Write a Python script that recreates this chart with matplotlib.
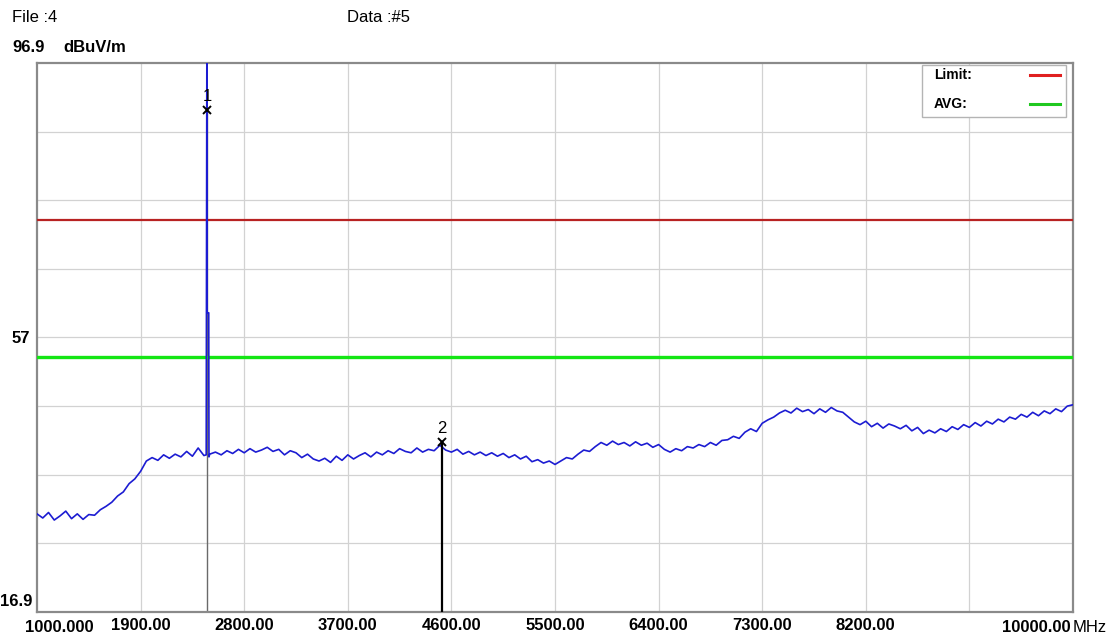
import numpy as np
import matplotlib.pyplot as plt
from matplotlib.patches import Rectangle

# sweep 1000-10000 MHz, one reading every 50 MHz
freq = np.linspace(1000, 10000, 181)
level = [
    31.2, 30.6, 31.4, 30.3, 30.9, 31.6, 30.5, 31.2, 30.4, 31.1,
    31.0, 31.8, 32.3, 32.9, 33.8, 34.4, 35.6, 36.3, 37.4, 38.9,
    39.4, 39.0, 39.8, 39.3, 39.9, 39.5, 40.3, 39.6, 40.8, 39.7,
    39.9, 40.2, 39.8, 40.4, 40.0, 40.6, 40.1, 40.7, 40.2, 40.5,
    40.9, 40.3, 40.6, 39.8, 40.4, 40.1, 39.4, 39.9, 39.2, 38.9,
    39.3, 38.7, 39.6, 39.0, 39.8, 39.2, 39.7, 40.1, 39.5, 40.2,
    39.8, 40.4, 40.0, 40.7, 40.3, 40.1, 40.8, 40.2, 40.6, 40.4,
    41.2, 40.5, 40.2, 40.6, 39.9, 40.3, 39.8, 40.2, 39.7, 40.1,
    39.6, 40.0, 39.4, 39.8, 39.2, 39.6, 38.8, 39.1, 38.6, 38.9,
    38.4, 38.9, 39.4, 39.2, 39.9, 40.5, 40.3, 41.0, 41.6, 41.2,
    41.8, 41.3, 41.6, 41.1, 41.7, 41.2, 41.5, 40.9, 41.3, 40.6,
    40.2, 40.7, 40.4, 41.0, 40.8, 41.3, 41.0, 41.6, 41.2, 41.9,
    42.0, 42.5, 42.2, 43.1, 43.6, 43.2, 44.4, 44.9, 45.3, 45.9,
    46.3, 45.9, 46.6, 46.1, 46.4, 45.8, 46.5, 46.0, 46.7, 46.2,
    46.0, 45.3, 44.6, 44.2, 44.7, 43.9, 44.4, 43.7, 44.3, 44.0,
    43.6, 44.1, 43.3, 43.8, 42.9, 43.4, 43.0, 43.6, 43.2, 43.9,
    43.5, 44.2, 43.8, 44.5, 44.0, 44.7, 44.3, 45.0, 44.6, 45.3,
    45.0, 45.7, 45.3, 46.0, 45.5, 46.2, 45.8, 46.5, 46.1, 46.9,
    47.1,
]

# carrier spike near 2480 MHz (goes off the top of the scale)
spike_freq = [2470, 2476, 2478, 2492, 2494]
spike_level = [39.8, 104.0, 60.5, 60.5, 39.5]

limit = 74.0
avg = 54.0

marker_freq = [2480, 4520]
marker_level = [90.0, 41.7]
marker_names = ['1', '2']

xtick_vals = [1900, 2800, 3700, 4600, 5500, 6400, 7300, 8200]
xtick_labels = ['1900.00', '2800.00', '3700.00', '4600.00',
                '5500.00', '6400.00', '7300.00', '8200.00']

legend_names = ['Limit:', 'AVG:']
legend_colors = ['#e02020', '#20c820']

# merge spike into the sweep
f_all = np.concatenate([freq, spike_freq])
l_all = np.concatenate([level, spike_level])
order = np.argsort(f_all, kind='stable')
f_all, l_all = f_all[order], l_all[order]

plt.rcParams['font.family'] = ['Liberation Sans', 'DejaVu Sans']

fig = plt.figure(figsize=(11.13, 6.38), dpi=100)
ax = fig.add_axes([37 / 1113, 1 - 612 / 638, 1036 / 1113, 549 / 638])

ax.set_xlim(1000, 10000)
ax.set_ylim(16.9, 96.9)

# grid
for gx in np.arange(1900, 10000, 900):
    ax.axvline(gx, color='#d2d2d2', lw=0.9, zorder=1)
for gy in np.arange(26.9, 96, 10):
    ax.axhline(gy, color='#d2d2d2', lw=0.9, zorder=1)
ax.tick_params(which='both', length=0)

for s in ax.spines.values():
    s.set_color('#8a8a8a')
    s.set_linewidth(1.6)

# marker stems
ax.plot([marker_freq[0]] * 2, [16.9, marker_level[0]], color='#6a6a6a', lw=1.0, zorder=2)
ax.plot([marker_freq[1]] * 2, [16.9, marker_level[1]], color='black', lw=1.6, zorder=5)

ax.axhline(limit, color='#b82222', lw=1.6, zorder=3)
ax.axhline(avg, color='#14e614', lw=2.4, zorder=3)

ax.plot(f_all, l_all, color='#1c1cd2', lw=1.2, zorder=4)

for fq, lv, nm in zip(marker_freq, marker_level, marker_names):
    ax.plot(fq, lv, marker='x', color='black', ms=6, mew=1.4, zorder=6)
    ax.annotate(nm, (fq, lv), xytext=(0, 6), textcoords='offset pixels',
                ha='center', va='bottom', fontsize=12, zorder=6)

# x labels
ax.set_xticks(xtick_vals)
ax.set_xticklabels(xtick_labels, fontsize=12, fontweight='bold')
ax.tick_params(axis='x', pad=4)
ax.annotate('1000.000', (1000, 16.9), xytext=(22, -15), textcoords='offset pixels',
            ha='center', va='center', fontsize=12, fontweight='bold',
            annotation_clip=False)
ax.annotate('10000.00', (10000, 16.9), xytext=(-2, -15), textcoords='offset pixels',
            ha='right', va='center', fontsize=12, fontweight='bold',
            annotation_clip=False)
ax.annotate('MHz', (10000, 16.9), xytext=(0, -15), textcoords='offset pixels',
            ha='left', va='center', fontsize=12, annotation_clip=False)

# y labels
ax.set_yticks([56.9])
ax.set_yticklabels(['57'], fontsize=12, fontweight='bold')
ax.tick_params(axis='y', pad=5)
ax.annotate('16.9', (1000, 16.9), xytext=(-5, 10), textcoords='offset pixels',
            ha='right', va='center', fontsize=12, fontweight='bold',
            annotation_clip=False)

fig.text(12 / 1113, 1 - 47 / 638, '96.9', fontsize=12, fontweight='bold', va='center')
fig.text(63 / 1113, 1 - 47 / 638, 'dBuV/m', fontsize=12, fontweight='bold', va='center')
fig.text(12 / 1113, 1 - 18 / 638, 'File :4', fontsize=12, va='center')
fig.text(347 / 1113, 1 - 18 / 638, 'Data :#5', fontsize=12, va='center')

# legend box: labels left, colour swatch right
def axfrac(px, py):
    return (px - 37) / 1036, (612 - py) / 549

x0, y1 = axfrac(922, 117)
x1, y0 = axfrac(1066, 65)
ax.add_patch(Rectangle((x0, y1), x1 - x0, y0 - y1, transform=ax.transAxes,
                       facecolor='white', edgecolor='#b4b4b4', lw=1.0, zorder=10))
for i, (nm, col) in enumerate(zip(legend_names, legend_colors)):
    py = 75 + 29 * i
    tx, ty = axfrac(934, py)
    ax.text(tx, ty, nm, transform=ax.transAxes, fontsize=10, fontweight='bold',
            ha='left', va='center', zorder=11)
    lx0, _ = axfrac(1030, py)
    lx1, _ = axfrac(1060, py)
    ax.plot([lx0, lx1], [ty, ty], transform=ax.transAxes, color=col, lw=2.2,
            zorder=11, clip_on=False)

fig.savefig('out.png', dpi=100)
